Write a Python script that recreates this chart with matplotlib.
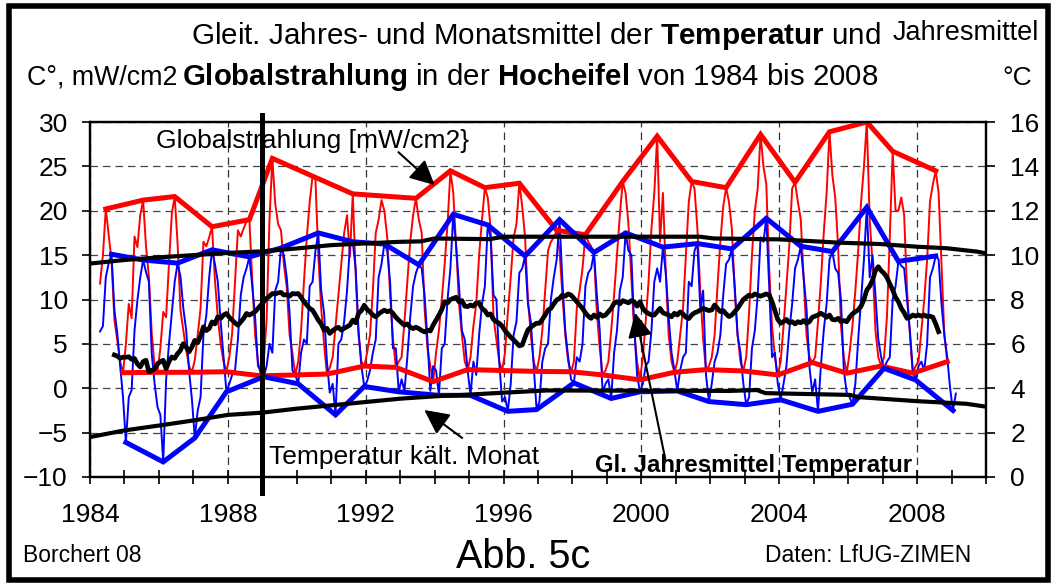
import numpy as np
import matplotlib
matplotlib.use("Agg")
import matplotlib.pyplot as plt
from matplotlib.patches import Rectangle

plt.rcParams["font.family"] = "Liberation Sans"
plt.rcParams["mathtext.fontset"] = "custom"
plt.rcParams["mathtext.rm"] = "Liberation Sans"
plt.rcParams["mathtext.bf"] = "Liberation Sans:bold"

# Monatsmittel ab April 1984 (Globalstrahlung mW/cm2, Temperatur C)
start_jahr, start_monat = 1984, 4
strahlung = [
    11.8, 15.0, 20.2, 17.3, 14.4, 7.7, 5.4, 3.0, 1.75,
    5.0, 9.5, 7.9, 17.1, 15.9, 19.5, 21.2, 16.0, 12.6, 6.2, 2.5, 1.8,
    4.5, 8.6, 8.0, 14.0, 19.7, 21.6, 16.3, 8.8, 6.5, 4.3, 2.5, 1.8,
    3.2, 6.0, 9.0, 16.5, 16.0, 17.0, 18.2, 12.2, 8.0, 5.0, 3.0, 1.86,
    3.5, 6.2, 12.0, 17.8, 17.1, 18.0, 18.8, 19.0, 12.2, 6.0, 3.0, 1.4,
    3.0, 7.7, 19.0, 25.9, 20.8, 18.5, 17.8, 14.0, 11.4, 6.0, 3.9, 1.5,
    3.0, 6.5, 12.0, 17.0, 21.0, 23.9, 23.5, 15.0, 9.0, 5.0, 1.6, 2.3,
    3.5, 7.0, 10.5, 14.0, 17.5, 19.5, 14.8, 21.9, 13.0, 6.0, 3.0, 2.5,
    4.0, 6.0, 11.0, 17.5, 19.0, 21.2, 20.0, 17.0, 10.5, 5.5, 2.35, 3.0,
    3.5, 7.5, 12.0, 16.5, 19.5, 21.4, 19.0, 17.5, 9.0, 4.5, 2.5, 0.75,
    4.0, 6.5, 10.0, 14.0, 18.5, 24.5, 22.0, 16.0, 9.5, 6.0, 3.0, 2.1,
    3.5, 7.0, 9.5, 15.0, 19.0, 22.6, 21.5, 18.0, 8.0, 5.5, 3.0, 2.0,
    4.0, 8.5, 12.5, 17.0, 18.5, 23.1, 20.5, 17.0, 10.0, 6.0, 3.0, 1.9,
    3.5, 6.5, 11.0, 15.5, 16.5, 17.0, 17.8, 15.5, 10.5, 6.0, 3.0, 1.86,
    3.0, 9.0, 11.0, 13.5, 17.3, 16.5, 16.0, 15.0, 8.5, 4.5, 1.5, 2.0,
    3.0, 6.5, 10.5, 15.0, 19.5, 23.3, 22.0, 18.5, 12.5, 6.5, 3.0, 0.95,
    3.5, 7.5, 12.0, 18.0, 22.0, 28.4, 16.5, 22.0, 13.0, 6.0, 3.0, 1.8,
    3.0, 6.0, 9.0, 15.0, 21.0, 23.3, 22.5, 18.0, 11.0, 5.5, 2.1, 2.5,
    3.5, 6.0, 11.5, 16.5, 20.5, 22.6, 21.0, 18.0, 11.0, 6.0, 3.0, 1.95,
    3.5, 8.5, 15.0, 20.0, 22.5, 28.6, 25.0, 23.0, 13.5, 7.0, 3.5, 1.5,
    3.0, 7.0, 11.5, 16.0, 22.5, 23.2, 21.0, 19.0, 12.5, 6.0, 3.5, 2.9,
    3.5, 7.5, 12.0, 17.5, 22.0, 28.9, 24.0, 21.5, 16.0, 7.0, 3.5, 1.7,
    4.0, 7.0, 11.0, 15.5, 21.0, 25.0, 30.0, 19.0, 14.0, 6.5, 3.5, 2.5,
    3.5, 8.0, 17.0, 26.7, 20.0, 20.0, 21.5, 19.5, 11.0, 6.0, 1.7, 2.5,
    3.0, 6.5, 10.0, 14.5, 21.0, 23.0, 24.5, 22.0, 14.0, 6.0, 3.0,
]
temperatur = [
    6.4, 7.0, 12.5, 14.1, 15.1, 8.8, 6.2, 2.5, -1.0,
    -6.1, -1.0, -0.2, 6.5, 9.9, 12.5, 14.45, 13.1, 12.0, 3.9, 0.5, -2.1,
    -3.0, -8.3, 0.9, 5.0, 8.5, 12.0, 14.1, 12.6, 9.0, 6.5, 2.0, -1.3,
    -5.6, -2.5, -1.0, 6.0, 8.2, 12.5, 15.6, 14.0, 12.0, 7.5, 3.5, -0.4,
    0.5, 1.5, 2.0, 5.5, 10.5, 12.5, 13.5, 14.8, 11.5, 8.0, 2.5, 2.0,
    1.3, 2.5, 5.0, 4.0, 11.0, 12.0, 15.8, 15.0, 12.5, 8.5, 2.0, 1.5,
    0.5, 4.0, 5.5, 5.0, 11.5, 12.0, 15.5, 17.5, 11.0, 8.5, 3.0, -0.5,
    0.5, -3.0, 5.0, 5.5, 7.5, 11.0, 16.0, 16.5, 13.5, 6.5, 2.5, 0.2,
    0.8, 2.0, 4.0, 5.5, 12.5, 14.0, 16.25, 15.5, 12.0, 4.5, 4.5, -0.4,
    1.0, -0.3, 3.5, 8.0, 11.5, 13.0, 13.9, 13.5, 10.5, 5.5, -0.3, 2.5,
    2.0, -0.8, 4.5, 5.0, 10.0, 13.5, 19.6, 16.0, 11.5, 6.5, 5.5, 2.0,
    -0.8, 3.0, 1.5, 6.0, 9.5, 11.5, 18.4, 17.0, 10.5, 10.0, 3.0, -1.5,
    -1.0, -2.6, 0.5, 6.0, 7.5, 13.0, 13.5, 14.9, 9.5, 7.5, 2.5, -2.4,
    -1.5, 3.0, 4.5, 5.0, 10.0, 12.5, 14.5, 19.0, 12.0, 6.5, 3.5, 1.0,
    0.6, 3.5, 3.0, 5.0, 11.5, 13.0, 13.5, 15.3, 10.5, 6.5, -0.5, 0.5,
    1.0, -1.15, 4.0, 6.5, 11.0, 12.5, 17.5, 15.5, 15.0, 7.0, 1.5, -0.4,
    0.5, 2.5, 3.0, 6.5, 12.0, 13.5, 12.0, 15.9, 13.0, 8.0, 4.0, 2.0,
    -0.3, 2.0, 3.5, 4.0, 12.0, 11.5, 15.5, 16.3, 9.0, 11.0, 1.5, -1.5,
    0.5, 3.0, 4.0, 6.0, 10.5, 14.0, 14.5, 15.7, 11.5, 6.0, 4.0, 0.5,
    -1.85, -1.0, 4.5, 6.5, 10.5, 17.0, 16.5, 19.15, 11.5, 3.5, 4.0, 0.5,
    -1.3, 0.5, 2.5, 6.5, 9.5, 13.5, 14.5, 16.0, 12.5, 9.0, 2.5, -0.5,
    1.0, -2.6, 2.5, 6.5, 9.5, 14.5, 15.4, 13.5, 13.0, 10.0, 2.0, -0.5,
    -1.0, -1.8, 0.5, 5.5, 10.0, 14.5, 20.4, 12.5, 15.0, 10.5, 5.5, 3.5,
    2.25, 3.0, 3.5, 10.0, 11.5, 14.3, 13.8, 13.5, 10.0, 6.5, 2.0, 0.93,
    2.5, 3.0, 2.0, 5.0, 12.5, 13.5, 14.9, 14.5, 9.5, 6.0, 3.5, 0.0,
    -2.5, -0.6,
]

# Jahresextreme (Jahr, Monat) der Monatsreihen
strahl_max = [(1984, 6), (1985, 7), (1986, 6), (1987, 7), (1988, 8), (1989, 4), (1990, 6),
              (1991, 8), (1993, 6), (1994, 6), (1995, 6), (1996, 6), (1997, 7), (1998, 5),
              (1999, 6), (2000, 6), (2001, 6), (2002, 6), (2003, 6), (2004, 6), (2005, 6),
              (2006, 7), (2007, 4), (2008, 7)]
strahl_min = [(1984, 12), (1985, 12), (1986, 12), (1987, 12), (1988, 12), (1989, 12), (1990, 11),
              (1991, 12), (1992, 11), (1993, 12), (1994, 12), (1995, 12), (1996, 12), (1997, 12),
              (1998, 11), (1999, 12), (2000, 12), (2001, 11), (2002, 12), (2003, 12), (2004, 12),
              (2005, 12), (2006, 12), (2007, 11), (2008, 11)]
temp_max = [(1984, 8), (1985, 7), (1986, 7), (1987, 7), (1988, 8), (1989, 7), (1990, 8),
            (1991, 8), (1992, 7), (1993, 7), (1994, 7), (1995, 7), (1996, 8), (1997, 8),
            (1998, 8), (1999, 7), (2000, 8), (2001, 8), (2002, 8), (2003, 8), (2004, 8),
            (2005, 7), (2006, 7), (2007, 6), (2008, 7)]
temp_min = [(1985, 1), (1986, 2), (1987, 1), (1987, 12), (1989, 1), (1990, 1), (1991, 2),
            (1991, 12), (1992, 12), (1994, 2), (1995, 1), (1996, 2), (1996, 12), (1998, 1),
            (1999, 2), (1999, 12), (2001, 1), (2001, 12), (2003, 1), (2004, 1), (2005, 2),
            (2006, 2), (2007, 1), (2007, 12), (2009, 1)]

# Gleitendes Jahresmittel Temperatur (rechte Achse), ab September 1984
jm_start = (1984, 9)
jahresmittel = [
    5.5, 5.45, 5.35, 5.4,
    5.4, 5.42, 5.3, 5.34, 5.1, 4.96, 5.2, 5.26, 4.74, 4.8, 4.88, 5.1,
    5.2, 5.26, 4.88, 5.2, 5.41, 5.35, 5.56, 5.71, 6.01, 5.85, 5.64, 5.86,
    6.16, 6.05, 6.35, 6.77, 6.6, 6.69, 6.99, 6.9, 7.22, 7.15, 7.3, 7.37,
    7.2, 7.07, 6.95, 6.84, 6.99, 7.15, 7.37, 7.3, 7.37, 7.45, 7.6, 7.75,
    7.9, 8.05, 8.15, 8.27, 8.25, 8.3, 8.32, 8.2, 8.22, 8.15, 8.27, 8.25,
    8.27, 8.1, 7.9, 7.75, 7.6, 7.52, 7.3, 7.07, 6.9, 6.62, 6.7, 6.47,
    6.6, 6.69, 6.75, 6.62, 6.7, 6.77, 6.85, 7.07, 6.95, 7.37, 7.5, 7.74,
    7.55, 7.44, 7.3, 7.22, 7.35, 7.44, 7.52, 7.45, 7.5, 7.37, 7.2, 7.07,
    6.95, 6.84, 6.9, 6.75, 6.69, 6.75, 6.69, 6.6, 6.54, 6.62, 6.58, 6.85,
    7.07, 7.3, 7.55, 7.9, 7.85, 8.0, 8.05, 8.1, 7.9, 7.95, 7.7, 7.68,
    7.75, 7.7, 7.85, 7.83, 7.6, 7.5, 7.3, 7.35, 7.1, 7.0, 6.93, 6.8,
    6.6, 6.45, 6.3, 6.18, 6.05, 5.91, 5.95, 6.3, 6.63, 6.75, 6.85, 6.93,
    6.93, 7.1, 7.3, 7.53, 7.6, 7.8, 7.98, 8.05, 8.2, 8.15, 8.25, 8.2,
    8.05, 7.9, 7.75, 7.6, 7.4, 7.25, 7.15, 7.3, 7.2, 7.35, 7.25, 7.3,
    7.45, 7.6, 7.83, 7.9, 7.8, 7.95, 7.9, 7.85, 7.95, 7.9, 7.7, 7.9,
    7.6, 7.45, 7.37, 7.3, 7.3, 7.45, 7.6, 7.4, 7.35, 7.3, 7.22, 7.38,
    7.3, 7.44, 7.35, 7.2, 7.14, 7.3, 7.4, 7.45, 7.52, 7.6, 7.55, 7.5,
    7.53, 7.75, 7.6, 7.45, 7.5, 7.35, 7.23, 7.3, 7.45, 7.6, 7.8, 8.0,
    8.1, 8.2, 8.15, 8.25, 8.2, 8.15, 8.2, 8.25, 8.2, 7.9, 7.5, 7.1,
    6.93, 7.0, 7.1, 6.95, 7.0, 6.9, 7.0, 6.95, 7.05, 6.93, 7.0, 7.2,
    7.25, 7.3, 7.38, 7.3, 7.2, 7.3, 7.1, 7.08, 7.15, 7.0, 7.05, 7.0,
    7.2, 7.35, 7.45, 7.53, 7.7, 8.0, 8.43, 8.6, 8.88, 9.3, 9.48, 9.3,
    9.18, 9.0, 8.7, 8.43, 8.1, 7.9, 7.6, 7.4, 7.15, 7.2, 7.3, 7.25,
    7.3, 7.25, 7.3, 7.23, 7.25, 7.2, 6.9, 6.55,
]

# obere und untere schwarze Linie (rechte Achse)
oben_jahr = [1984.0, 1985.0, 1986.0, 1987.0, 1988.0, 1989.0, 1990.0, 1991.0, 1992.0, 1993.0,
             1993.6, 1994.0, 1995.6, 1996.0, 2001.7, 2002.1, 2004.0, 2005.76, 2006.93,
             2007.99, 2008.86, 2009.73, 2010.0]
oben_wert = [9.62, 9.78, 9.9, 10.0, 10.1, 10.17, 10.3, 10.45, 10.53, 10.6,
             10.62, 10.75, 10.72, 10.83, 10.83, 10.75, 10.71, 10.56, 10.5,
             10.38, 10.31, 10.16, 10.08]
unten_jahr = [1984.0, 1985.0, 1986.05, 1987.05, 1988.0, 1989.0, 1990.0, 1991.0, 1992.0,
              1993.0, 1994.05, 1994.83, 1996.0, 1997.25, 2002.57, 2003.35, 2003.6,
              2006.05, 2006.3, 2007.98, 2009.43, 2010.0]
unten_wert = [1.8, 2.1, 2.33, 2.56, 2.8, 2.9, 3.08, 3.23, 3.38,
              3.53, 3.64, 3.7, 3.8, 3.9, 3.88, 3.92, 3.78,
              3.7, 3.6, 3.42, 3.3, 3.17]


def monate(n, jahr, monat):
    i = np.arange(n) + monat - 1
    return jahr + (i + 0.5) / 12.0


def extreme(werte, paare):
    x = monate(len(werte), start_jahr, start_monat)
    idx = [(j - start_jahr) * 12 + m - start_monat for j, m in paare]
    return x[idx], np.array(werte)[idx]


W, H = 1055, 583
fig = plt.figure(figsize=(W / 100, H / 100), dpi=100)
ax = fig.add_axes([90 / W, 1 - 477 / H, 896 / W, 355 / H])
ax2 = ax.twinx()

x_s = monate(len(strahlung), start_jahr, start_monat)
x_t = monate(len(temperatur), start_jahr, start_monat)
ax.plot(x_s, strahlung, color="red", lw=1.4, zorder=2)
ax.plot(x_t, temperatur, color="blue", lw=1.4, zorder=2)
for werte, paare, farbe in [(strahlung, strahl_max, "red"), (strahlung, strahl_min, "red"),
                            (temperatur, temp_max, "blue"), (temperatur, temp_min, "blue")]:
    ex, ey = extreme(werte, paare)
    ax.plot(ex, ey, color=farbe, lw=3.6, zorder=3, solid_joinstyle="miter")

ax2.plot(monate(len(jahresmittel), *jm_start), jahresmittel, color="black", lw=3.4)
ax2.plot(oben_jahr, oben_wert, color="black", lw=3.0)
ax2.plot(unten_jahr, unten_wert, color="black", lw=3.0)
ax2.axvline(1989, ymin=-0.045, ymax=1.02, color="black", lw=3.6, clip_on=False)

ax.set_xlim(1984, 2010)
ax.set_ylim(-10, 30)
ax2.set_ylim(0, 16)
ax.set_xticks(range(1984, 2009, 4))
ax.set_xticks(range(1984, 2011), minor=True)
ax.set_yticks(range(-10, 31, 5))
ax2.set_yticks(range(0, 17, 2))
ax.tick_params(axis="y", direction="out", length=6, width=1.2, pad=10, labelsize=19)
ax.tick_params(axis="x", which="both", direction="inout", length=10, width=1.2, pad=14, labelsize=19)
ax2.tick_params(axis="y", direction="out", length=6.5, width=1.2, pad=11, labelsize=19)
ax.grid(axis="y", ls=(0, (6, 4)), color="#444444", lw=0.9)
ax.grid(axis="x", which="major", ls=(0, (6, 4)), color="#333333", lw=0.9)
for a in (ax, ax2):
    for s in a.spines.values():
        s.set_linewidth(1.6)

arrow = dict(arrowstyle="-|>,head_length=0.6,head_width=0.3", color="black", lw=1.5,
             mutation_scale=25, shrinkA=0, shrinkB=0)
ax2.annotate("", xy=(1994.0, 22.9), xycoords=ax.transData,
             xytext=(1992.95, 26.6), textcoords=ax.transData, arrowprops=arrow)
ax2.annotate("", xy=(1993.7, -2.45), xycoords=ax.transData,
             xytext=(1994.8, -5.6), textcoords=ax.transData, arrowprops=arrow)
ax2.annotate("", xy=(1999.82, 8.5), xycoords=ax.transData,
             xytext=(2000.7, -8.1), textcoords=ax.transData, arrowprops=arrow)

def ftext(x, y, s, **kw):
    fig.text(x / W, 1 - y / H, s, va="baseline", **kw)

ftext(191, 43.5, r"Gleit. Jahres- und Monatsmittel der $\mathbf{Temperatur}$ und", fontsize=21.3)
ftext(27, 85, "C°, mW/cm2", fontsize=19.3)
ftext(182, 85, r"$\mathbf{Globalstrahlung}$ in der $\mathbf{Hocheifel}$ von 1984 bis 2008", fontsize=21.2)
ftext(893, 40, "Jahresmittel", fontsize=19.5)
ftext(1017, 85, "°C", fontsize=19, ha="center")
ftext(156, 148.3, "Globalstrahlung [mW/cm2}", fontsize=19)
ftext(269, 464, "Temperatur kält. Monat", fontsize=19)
ftext(595, 471.7, "Gl. Jahresmittel Temperatur", fontsize=17.3, weight="bold")
ftext(23, 561.7, "Borchert 08", fontsize=16.5)
ftext(523, 568, "Abb. 5c", fontsize=28.5, ha="center")
ftext(765, 561.7, "Daten: LfUG-ZIMEN", fontsize=16.5)

fig.patches.append(Rectangle((9 / W, 3 / H), 1039 / W, 574 / H, transform=fig.transFigure,
                             fill=False, lw=4, edgecolor="black"))

fig.savefig("out.png", dpi=100)
